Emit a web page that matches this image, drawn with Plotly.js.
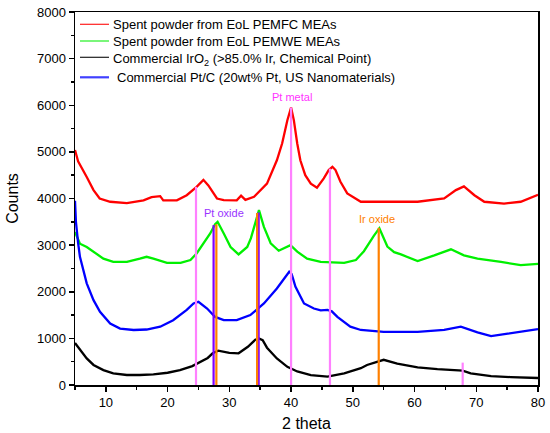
<!DOCTYPE html>
<html>
<head>
<meta charset="utf-8">
<script src="https://cdn.plot.ly/plotly-3.0.1.min.js"></script>
<style>html,body{margin:0;padding:0;background:#fff;}#chart{width:550px;height:433px;}</style>
</head>
<body>
<div id="chart"></div>
<script>
// ---- Data ----
const seriesNames = [
  "Spent powder from EoL PEMFC MEAs",
  "Spent powder from EoL PEMWE MEAs",
  "Commercial IrO<sub>2</sub> (>85.0% Ir, Chemical Point)",
  "Commercial Pt/C (20wt% Pt, US Nanomaterials)"
];

const pemfcX = [5, 5.5, 6.9, 8, 9, 10.7, 13.4, 16.1, 17.4, 18.8, 19.3, 21.5, 23.1, 24.7, 25.8, 26.6, 28, 29.1, 31.2, 31.9, 32.6, 34, 36.1, 37.7, 38.55, 39.4, 40, 40.45, 41, 41.5, 42.3, 43.2, 44.2, 45.3, 46.1, 46.7, 47.2, 48, 49.1, 51.3, 55, 60.5, 64.8, 66.7, 68, 69.7, 71.3, 74.5, 77.2, 80];
const pemfcY = [5040, 4800, 4460, 4180, 4000, 3930, 3900, 3960, 4030, 4050, 3960, 3960, 4070, 4250, 4400, 4280, 4000, 3965, 3960, 4060, 3970, 4036, 4320, 4820, 5180, 5680, 5950, 5680, 5180, 4820, 4500, 4320, 4230, 4430, 4610, 4680, 4610, 4360, 4110, 3930, 3930, 3930, 4000, 4180, 4260, 4070, 3930, 3890, 3930, 4080];

const pemweX = [5, 5.8, 6.9, 8, 9.6, 11.2, 13.4, 15.5, 16.6, 17.7, 19.9, 22.1, 23.7, 24.7, 25.8, 26.9, 27.7, 28.1, 29.1, 30.2, 31.5, 32.9, 33.5, 34, 34.8, 35.6, 36.7, 38, 39.9, 41, 42.6, 44.8, 48.6, 50.5, 51.8, 53.4, 54.3, 55.6, 56.7, 57.8, 60.5, 63.2, 65.9, 68, 70.2, 74, 77.2, 80];
const pemweY = [3280, 3030, 2960, 2860, 2710, 2640, 2640, 2710, 2750, 2710, 2620, 2620, 2680, 2820, 3030, 3250, 3450, 3500, 3250, 2960, 2800, 2960, 3150, 3390, 3750, 3390, 3040, 2880, 3000, 2860, 2710, 2640, 2620, 2680, 2870, 3200, 3360, 2970, 2850, 2800, 2660, 2780, 2910, 2780, 2710, 2640, 2570, 2600];

const iro2X = [5, 5.8, 6.9, 8, 9.6, 11.2, 13.4, 15.5, 17.7, 20, 22, 24, 25, 26.5, 27.3, 28.2, 30, 31.5, 33, 34.2, 34.8, 35.4, 36.1, 37.7, 39.4, 41, 43.2, 45.9, 48.6, 49.6, 51.3, 52.3, 55, 57.2, 60.5, 63.7, 67, 67.8, 69.1, 72.4, 75.6, 78, 80];
const iro2Y = [900, 750, 570, 430, 320, 250, 215, 215, 230, 263, 320, 405, 470, 580, 680, 735, 690, 680, 820, 970, 1000, 960, 800, 570, 390, 290, 210, 180, 250, 290, 360, 430, 540, 460, 380, 340, 320, 310, 250, 190, 170, 160, 150];

const ptcX = [5, 5.15, 5.5, 5.8, 6.9, 8, 9.05, 10.7, 12.3, 14.5, 16.6, 18.8, 20.9, 23.1, 24.2, 25, 26.4, 27.7, 29.1, 31.2, 33.4, 35.6, 37.7, 39.1, 39.7, 40.1, 40.7, 42.1, 43.7, 44.8, 45.9, 46.6, 47.5, 49.6, 51.3, 55, 60.5, 64.8, 67.5, 70.2, 72.4, 75.1, 77.2, 80];
const ptcY = [3950, 3500, 3050, 2750, 2180, 1820, 1570, 1320, 1210, 1180, 1190, 1250, 1390, 1610, 1750, 1785, 1640, 1460, 1390, 1390, 1500, 1750, 2070, 2320, 2430, 2380, 2110, 1750, 1640, 1600, 1610, 1580, 1460, 1250, 1180, 1140, 1140, 1180, 1250, 1130, 1050, 1100, 1140, 1200];

// reference peak positions (2 theta) and the height each marker line reaches
const ptMetalX = [24.6, 40.0, 46.3, 67.8];
const ptMetalTop = [4250, 5950, 4640, 480];
const ptOxideX = [27.45, 34.75];
const ptOxideTop = [3430, 3700];
const irOxideX = [27.9, 34.5, 54.2];
const irOxideTop = [3450, 3690, 3370];

const labelText = ["Pt metal", "Pt oxide", "Ir oxide"];
const labelX = [40.1, 29.2, 54.0];
const labelY = [6170, 3690, 3570];

// ---- Build traces ----
const FONT = "Arial, 'Liberation Sans', sans-serif";
function stems(xs, tops) {
  const x = [], y = [];
  xs.forEach((v, i) => { x.push(v, v, null); y.push(0, tops[i], null); });
  return {x, y};
}
const curveColors = ["#ff0000", "#00f000", "#000000", "#0000ff"];
const legendLineColors = ["#ff2020", "#20f020", "#202020", "#4040ff"];
const legendLineWidths = [1.2, 1.2, 1.2, 2.2];
const curves = [[pemfcX, pemfcY], [pemweX, pemweY], [iro2X, iro2Y], [ptcX, ptcY]];
const traces = curves.map((c, i) => ({
  x: c[0], y: c[1], type: "scatter", mode: "lines", name: seriesNames[i],
  showlegend: false, line: {color: curveColors[i], width: 2.3}
}));
const stemSets = [
  [ptMetalX, ptMetalTop, "#ff80ff"],
  [ptOxideX, ptOxideTop, "#8000ff"],
  [irOxideX, irOxideTop, "#ff8000"]
];
stemSets.forEach(s => {
  const d = stems(s[0], s[1]);
  traces.push({x: d.x, y: d.y, type: "scatter", mode: "lines", showlegend: false,
    hoverinfo: "skip", line: {color: s[2], width: 2.2}});
});

const labelColors = ["#ff33ff", "#9933ff", "#ff8000"];
const annotations = labelText.map((t, i) => ({
  x: labelX[i], y: labelY[i], xref: "x", yref: "y", text: t, showarrow: false,
  font: {family: FONT, size: 11, color: labelColors[i]}
}));

// ---- Legend (drawn in plot-fraction coordinates, top-left inside the frame) ----
const plotL = 75, plotR = 538, plotT = 12, plotB = 385;
const px2x = p => (p - plotL) / (plotR - plotL);
const px2y = p => (plotB - p) / (plotB - plotT);
const legendRowsPx = [24.3, 41, 57.3, 77.3];
const legendTextPx = [112, 112, 112, 116];
const shapes = [];
seriesNames.forEach((n, i) => {
  shapes.push({type: "line", xref: "paper", yref: "paper",
    x0: px2x(80), x1: px2x(109), y0: px2y(legendRowsPx[i]), y1: px2y(legendRowsPx[i]),
    line: {color: legendLineColors[i], width: legendLineWidths[i]}});
  annotations.push({xref: "paper", yref: "paper", x: px2x(legendTextPx[i]), y: px2y(legendRowsPx[i] + (i === 2 ? 2.5 : 0)),
    xanchor: "left", yanchor: "middle", text: n, showarrow: false, borderpad: 0,
    font: {family: FONT, size: 13, color: "#000"}});
});

const axisCommon = {
  showgrid: false, zeroline: false, showline: true, mirror: true,
  linecolor: "#000", linewidth: 1.5, ticks: "outside", ticklen: 5, tickwidth: 1.5, tickcolor: "#000",
  tickfont: {family: FONT, size: 13, color: "#000"}
};

const layout = {
  width: 550, height: 433,
  margin: {l: plotL, r: 550 - plotR, t: plotT, b: 433 - plotB},
  paper_bgcolor: "#fff", plot_bgcolor: "#fff",
  font: {family: FONT, color: "#000"},
  xaxis: Object.assign({}, axisCommon, {
    range: [5, 80], tick0: 0, dtick: 10,
    minor: {dtick: 5, tick0: 0, ticks: "outside", ticklen: 3, tickwidth: 1.5, tickcolor: "#000"},
    title: {text: "2 theta", font: {size: 16, color: "#000"}, standoff: 8}
  }),
  yaxis: Object.assign({}, axisCommon, {
    range: [0, 8000], tick0: 0, dtick: 1000,
    minor: {dtick: 500, tick0: 0, ticks: "outside", ticklen: 3, tickwidth: 1.5, tickcolor: "#000"},
    title: {text: "Counts", font: {size: 16, color: "#000"}, standoff: 14}
  }),
  shapes: shapes,
  annotations: annotations,
  showlegend: false
};

Plotly.newPlot("chart", traces, layout, {staticPlot: true, displayModeBar: false});
</script>
</body>
</html>
